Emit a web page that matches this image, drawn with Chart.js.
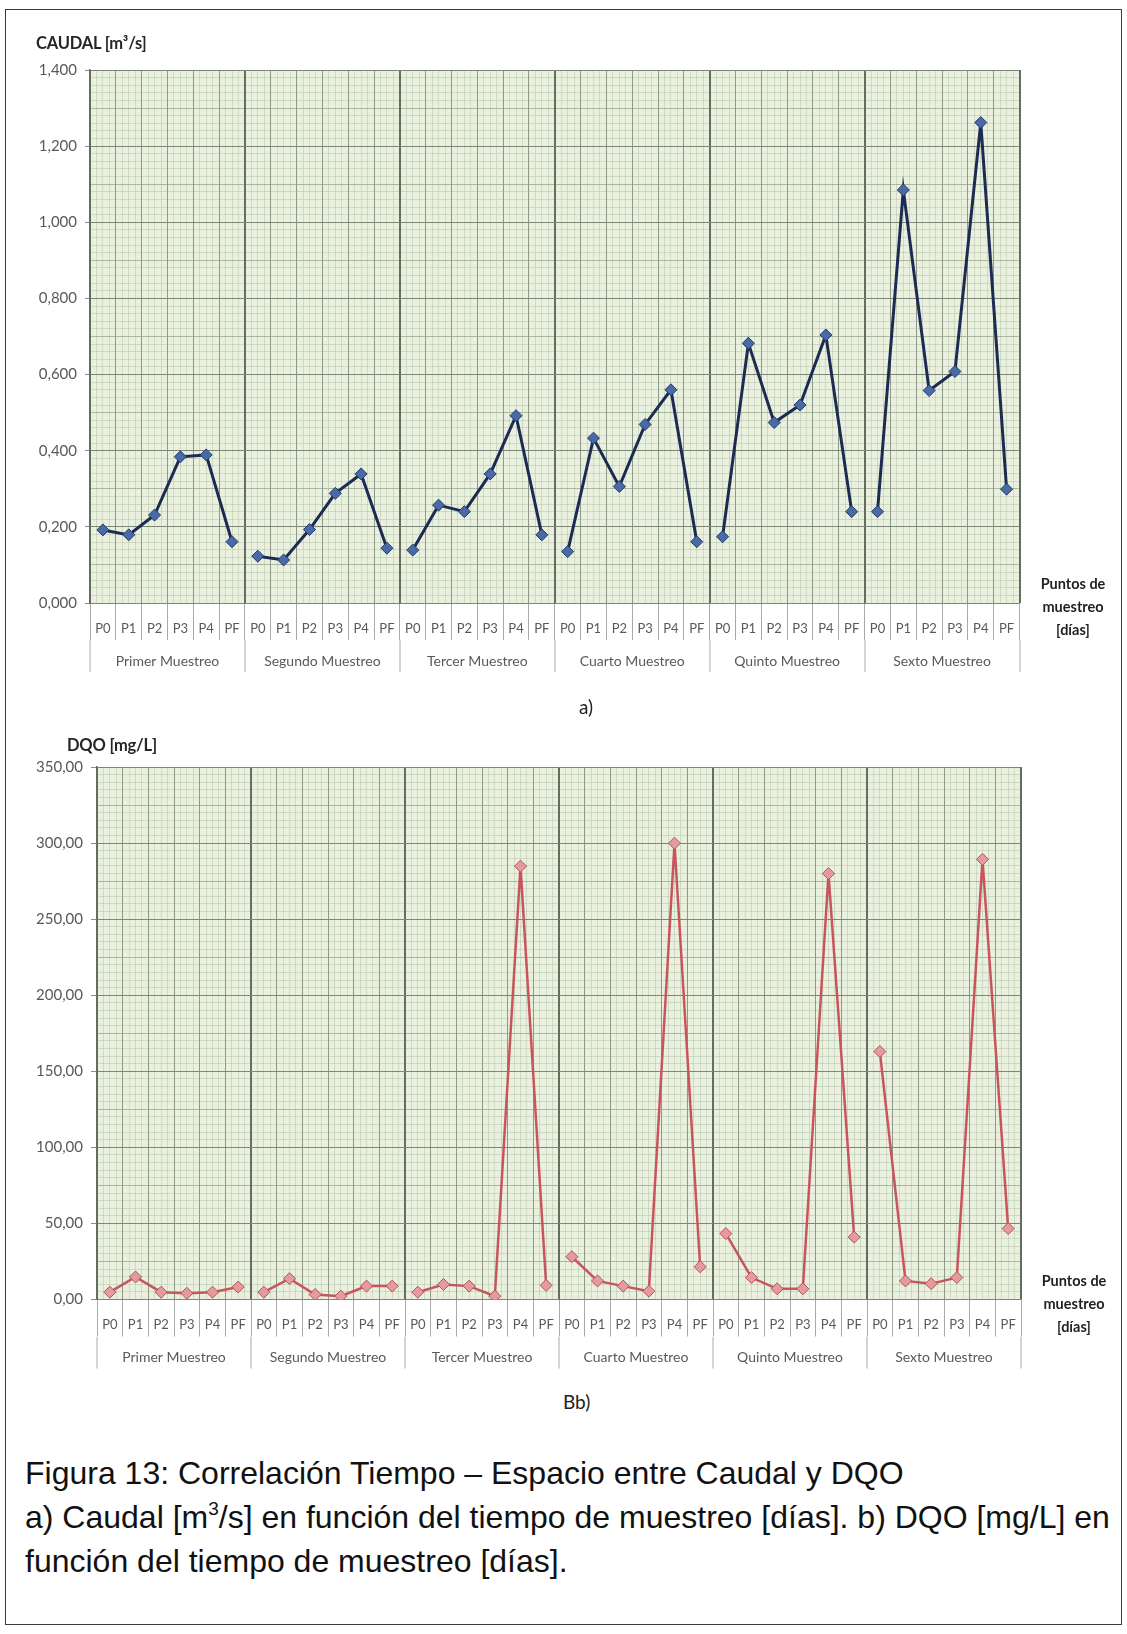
<!DOCTYPE html>
<html>
<head>
<meta charset="utf-8">
<script src="https://cdn.jsdelivr.net/npm/chart.js@4.4.1/dist/chart.umd.min.js"></script>
<style>
  html, body { margin: 0; padding: 0; background: #fff; }
  body { width: 1127px; height: 1634px; position: relative; overflow: hidden; font-family: Lato, "Open Sans", sans-serif; }
  .frame { position: absolute; left: 5px; top: 9px; width: 1117px; height: 1616px; border: 1.5px solid #3c3c3c; box-sizing: border-box; }
  .box { position: absolute; left: 0; width: 1127px; }
  .txt { position: absolute; white-space: nowrap; transform: translateY(-50%); line-height: 1; }
  .axisTitle { font-weight: 700; font-size: 16.5px; color: #262626; letter-spacing: -0.2px; }
  .xTitle { position: absolute; width: 100px; text-align: center; font-weight: 700; font-size: 14.5px; line-height: 23px; color: #1f1f1f; }
  .sub { font-size: 19px; color: #222; }
  .caption { font-family: "Liberation Sans", Arial, sans-serif; font-size: 32px; color: #111; }
  .caption sup { font-size: 19px; vertical-align: 0; position: relative; top: -13px; }
</style>
</head>
<body>
<div class="frame"></div>

<div class="box" style="top:0;height:690px;"><canvas id="chartCaudal" width="1127" height="690"></canvas></div>
<div class="box" style="top:697px;height:690px;"><canvas id="chartDqo" width="1127" height="690"></canvas></div>

<div class="txt axisTitle" style="left:36px;top:43px;">CAUDAL [m³/s]</div>
<div class="xTitle" style="left:1023px;top:572px;">Puntos de<br>muestreo<br>[días]</div>
<div class="txt sub" style="left:579px;top:706px;">a)</div>

<div class="txt axisTitle" style="left:67px;top:745px;">DQO [mg/L]</div>
<div class="xTitle" style="left:1024px;top:1269px;">Puntos de<br>muestreo<br>[días]</div>
<div class="txt sub" style="left:563px;top:1401px;">Bb)</div>

<div class="txt caption" style="left:25px;top:1473px;">Figura 13: Correlación Tiempo – Espacio entre Caudal y DQO</div>
<div class="txt caption" style="left:25px;top:1517px;">a) Caudal [m<sup>3</sup>/s] en función del tiempo de muestreo [días]. b) DQO [mg/L] en</div>
<div class="txt caption" style="left:25px;top:1561px;">función del tiempo de muestreo [días].</div>

<script>
// Sampling points inside each campaign, and the six campaigns
const puntos = ['P0', 'P1', 'P2', 'P3', 'P4', 'PF'];
const muestreos = ['Primer Muestreo', 'Segundo Muestreo', 'Tercer Muestreo',
                   'Cuarto Muestreo', 'Quinto Muestreo', 'Sexto Muestreo'];

// Caudal [m3/s], six points per campaign
const caudal = [
  0.192, 0.179, 0.231, 0.384, 0.389, 0.161,
  0.123, 0.113, 0.193, 0.288, 0.339, 0.144,
  0.139, 0.257, 0.240, 0.339, 0.492, 0.179,
  0.135, 0.433, 0.306, 0.469, 0.560, 0.161,
  0.174, 0.682, 0.474, 0.520, 0.704, 0.240,
  0.240, 1.085, 0.558, 0.608, 1.262, 0.299
];

// DQO [mg/L], six points per campaign
const dqo = [
  4.8, 14.8, 4.8, 4.1, 4.8, 8.2,
  4.8, 13.7, 3.3, 2.2, 8.8, 8.8,
  4.8, 9.9, 8.8, 2.2, 284.8, 9.3,
  28.1, 12.2, 8.8, 5.5, 299.9, 21.5,
  43.3, 14.4, 7.0, 7.0, 279.9, 41.0,
  163.0, 12.2, 10.4, 14.4, 289.3, 46.6
];

// Value-axis ticks
const caudalTicks = [0, 0.2, 0.4, 0.6, 0.8, 1.0, 1.2, 1.4];
const dqoTicks = [0, 50, 100, 150, 200, 250, 300, 350];

const xLabels = muestreos.flatMap(() => puntos);

const LABEL_COLOR = '#595959';
const PAPER = '#e9f0de';
const FINE = 'rgba(150,168,135,0.30)';
const MEDIUM = 'rgba(120,138,108,0.42)';
const CAT_LINE = '#8e9988';
const MAJOR_LINE = '#7b8676';
const SECTION_LINE = '#646d61';

// fills the plotting area like squared paper
const plotBg = {
  id: 'plotBg',
  beforeDraw(chart, args, opts) {
    const { ctx, chartArea: a } = chart;
    ctx.save();
    ctx.fillStyle = opts.color;
    ctx.fillRect(a.left, a.top, a.right - a.left, a.bottom - a.top);
    ctx.restore();
  }
};

function paperAxis(position, min, max, step, color) {
  const fit = position === 'left'
    ? s => { s.width = 0; }
    : s => { s.height = 0; };
  return {
    type: 'linear', position, min, max, weight: 0,
    ticks: { display: false, stepSize: step },
    grid: { color, lineWidth: 1, drawTicks: false },
    border: { display: false },
    afterFit: fit
  };
}

// one line per campaign: each keeps only its own six points
function campaignSeries(values, cfg) {
  const per = puntos.length;
  return muestreos.map((name, g) => ({
    label: name,
    data: values.map((v, i) => (Math.floor(i / per) === g ? v : null)),
    xAxisID: 'x',
    yAxisID: 'y',
    borderColor: cfg.line,
    borderWidth: cfg.lineWidth,
    tension: 0,
    spanGaps: false,
    pointStyle: 'rectRot',
    pointRadius: 6,
    pointBackgroundColor: cfg.fill,
    pointBorderColor: cfg.stroke,
    pointBorderWidth: 1
  }));
}

function makeChart(id, cfg) {
  const yMax = cfg.ticks[cfg.ticks.length - 1];
  const nCats = xLabels.length;
  return new Chart(document.getElementById(id), {
    type: 'line',
    data: {
      labels: xLabels,
      datasets: campaignSeries(cfg.values, cfg)
    },
    options: {
      responsive: false,
      maintainAspectRatio: false,
      animation: false,
      devicePixelRatio: 1,
      layout: { padding: cfg.padding },
      plugins: {
        legend: { display: false },
        tooltip: { enabled: false },
        plotBg: { color: PAPER }
      },
      scales: {
        xFine: paperAxis('bottom', -0.5, nCats - 0.5, 0.25, FINE),
        yFine: paperAxis('left', 0, yMax, yMax / 70, FINE),
        yMedium: paperAxis('left', 0, yMax, yMax / 14, MEDIUM),
        x: {
          type: 'category', position: 'bottom', weight: 1, offset: true,
          grid: { offset: true, color: CAT_LINE, lineWidth: 1, tickColor: '#a9a9a9', tickLength: 37 },
          border: { color: MAJOR_LINE },
          ticks: { autoSkip: false, maxRotation: 0, minRotation: 0, padding: -19,
                   color: LABEL_COLOR, font: { family: 'Lato', size: 13 } },
          afterFit: s => { s.height = 37; }
        },
        xGroup: {
          type: 'category', position: 'bottom', weight: 2, offset: true,
          labels: muestreos, min: 0, max: muestreos.length - 1,
          grid: { offset: true, color: SECTION_LINE, lineWidth: 2, tickColor: '#a9a9a9', tickWidth: 1, tickLength: 32 },
          border: { display: false },
          ticks: { autoSkip: false, maxRotation: 0, minRotation: 0, padding: -19,
                   color: LABEL_COLOR, font: { family: 'Lato', size: 14 } },
          afterFit: s => { s.height = 32; }
        },
        y: {
          type: 'linear', position: 'left', weight: 1, min: 0, max: yMax,
          afterBuildTicks: s => { s.ticks = cfg.ticks.map(v => ({ value: v })); },
          ticks: { padding: 8, color: LABEL_COLOR, font: { family: 'Lato', size: 15 },
                   callback: v => cfg.format(v) },
          grid: { color: MAJOR_LINE, lineWidth: 1, tickLength: cfg.tickLength, tickColor: '#8c8c8c' },
          border: { color: SECTION_LINE, width: 1.5 },
          afterFit: s => { s.width = cfg.yWidth; }
        }
      }
    },
    plugins: [plotBg]
  });
}

makeChart('chartCaudal', {
  values: caudal,
  ticks: caudalTicks,
  format: v => v.toFixed(3).replace('.', ','),
  padding: { left: 30, top: 70, right: 107.5, bottom: 18 },
  yWidth: 60,
  tickLength: 5,
  line: '#1c2b52',
  lineWidth: 3,
  fill: '#4a6aa5',
  stroke: '#233a6b'
});

makeChart('chartDqo', {
  values: dqo,
  ticks: dqoTicks,
  format: v => v.toFixed(2).replace('.', ','),
  padding: { left: 30, top: 70, right: 106, bottom: 18.5 },
  yWidth: 67,
  tickLength: 6,
  line: '#c9555c',
  lineWidth: 2.5,
  fill: '#e59b9e',
  stroke: '#b4545a'
});
</script>
</body>
</html>
